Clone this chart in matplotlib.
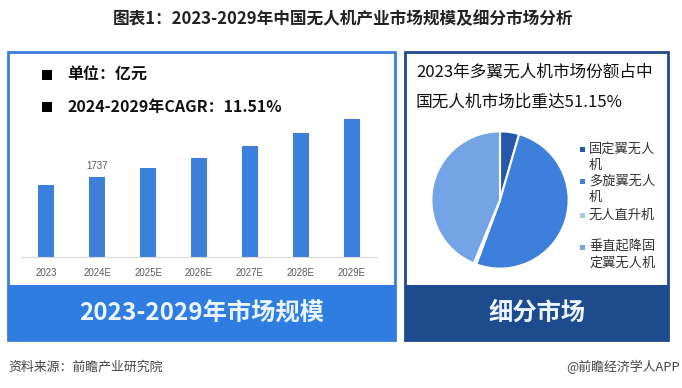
"""
Recreate: 2023-2029 China drone industry market size and segment split.
Saves out.png (682x388).
"""

import matplotlib.pyplot as plt
from matplotlib.patches import Rectangle

plt.rcParams["font.family"] = ["Noto Sans CJK SC", "DejaVu Sans"]

# data
YEARS = ["2023", "2024E", "2025E", "2026E", "2027E", "2028E", "2029E"]
MARKET_SIZE = [1560, 1737, 1930, 2150, 2400, 2680, 2990]
LABELLED_YEAR = "2024E"

SEGMENTS = ["固定翼无人\n机", "多旋翼无人\n机", "无人直升机", "垂直起降固\n定翼无人机"]
SEGMENT_SHARE = [4.5, 51.15, 0.6, 43.75]
SEGMENT_COLORS = ["#2557ab", "#3d80dc", "#a9c6ee", "#74a4e6"]

TITLE = "图表1：2023-2029年中国无人机产业市场规模及细分市场分析"
UNIT_LINES = ["单位：亿元", "2024-2029年CAGR：11.51%"]
PIE_TITLE = ["2023年多翼无人机市场份额占中", "国无人机市场比重达51.15%"]
LEFT_BAND = "2023-2029年市场规模"
RIGHT_BAND = "细分市场"
SOURCE = "资料来源：前瞻产业研究院"
CREDIT = "@前瞻经济学人APP"

W, H = 682, 388


def fig_box(x0, y0, x1, y1):
    """Pixel box (top-left origin) -> figure fraction rect."""
    return [x0 / W, (H - y1) / H, (x1 - x0) / W, (y1 - y0) / H]


fig = plt.figure(figsize=(W / 100, H / 100), dpi=100)

# background layer in pixel coordinates
bg = fig.add_axes([0, 0, 1, 1])
bg.set_xlim(0, W)
bg.set_ylim(H, 0)
bg.axis("off")

bg.text(343, 19, TITLE, ha="center", va="center", fontsize=12,
        fontweight="bold", color="#222222")

# left panel
bg.add_patch(Rectangle((10, 287), 386, 55, color="#d8d8d8", alpha=0.6, lw=0))
bg.add_patch(Rectangle((8, 52), 387, 288, facecolor="white",
                       edgecolor="#3b7ddd", lw=2))
bg.add_patch(Rectangle((8, 285), 387, 55, facecolor="#2f7de1", lw=0))
bg.text(202, 313, LEFT_BAND, ha="center", va="center", fontsize=17.5,
        fontweight="bold", color="#eaf5ff")

for i, line in enumerate(UNIT_LINES):
    y = 75 + i * 32
    bg.add_patch(Rectangle((42, y - 5), 10, 10, color="black", lw=0))
    bg.text(67, y, line, ha="left", va="center", fontsize=11.5,
            fontweight="bold", color="#111111")

# right panel
bg.add_patch(Rectangle((407, 287), 263, 55, color="#d8d8d8", alpha=0.6, lw=0))
bg.add_patch(Rectangle((405, 52), 263, 288, facecolor="white",
                       edgecolor="#1f4a8c", lw=2))
bg.add_patch(Rectangle((405, 285), 263, 55, facecolor="#1e4b8e", lw=0))
bg.text(537, 313, RIGHT_BAND, ha="center", va="center", fontsize=17.5,
        fontweight="bold", color="#eaf5ff")

for i, line in enumerate(PIE_TITLE):
    bg.text(416, 72 + i * 30, line, ha="left", va="center", fontsize=12,
            color="#111111")

label_y = [149, 181, 215, 247]
for label, color, y in zip(SEGMENTS, SEGMENT_COLORS, label_y):
    bg.add_patch(Rectangle((580, y - 2), 4.5, 4.5, color=color, lw=0))
    for j, part in enumerate(label.split("\n")):
        bg.text(589, y + j * 16, part, ha="left", va="center", fontsize=9.5,
                color="#333333")

# footer
bg.text(8, 367, SOURCE, ha="left", va="center", fontsize=9.3, color="#444444")
bg.text(680, 367, CREDIT, ha="right", va="center", fontsize=9.3, color="#444444")

# bar chart
ax = fig.add_axes(fig_box(21, 107, 377, 257))
x = list(range(len(YEARS)))
ax.bar(x, MARKET_SIZE, width=0.315, color="#3d80dc", zorder=2)
ax.set_xlim(-0.5, len(YEARS) - 0.5)
ax.set_ylim(0, 150 * 21.63)
ax.set_xticks(x)
ax.set_xticklabels(YEARS, fontsize=7, color="#595959",
                   family=["Liberation Sans", "DejaVu Sans"])
ax.tick_params(axis="x", length=0, pad=8)
ax.set_yticks([])
for side in ["top", "right", "left"]:
    ax.spines[side].set_visible(False)
ax.spines["bottom"].set_color("#d9d9d9")
ax.patch.set_alpha(0)

i = YEARS.index(LABELLED_YEAR)
ax.annotate(str(MARKET_SIZE[i]), (x[i], MARKET_SIZE[i]), xytext=(0, 4),
            textcoords="offset points", ha="center", va="bottom", fontsize=7,
            color="#595959", family=["Liberation Sans", "DejaVu Sans"])

# pie chart
pax = fig.add_axes(fig_box(430, 130, 570, 270))
pax.pie(SEGMENT_SHARE, colors=SEGMENT_COLORS, startangle=90, counterclock=False,
        radius=1, wedgeprops={"edgecolor": "white", "linewidth": 1.5})
pax.set_xlim(-1.02, 1.02)
pax.set_ylim(-1.02, 1.02)
pax.set_aspect("equal")
pax.axis("off")

fig.savefig("out.png", dpi=100)
plt.close(fig)
